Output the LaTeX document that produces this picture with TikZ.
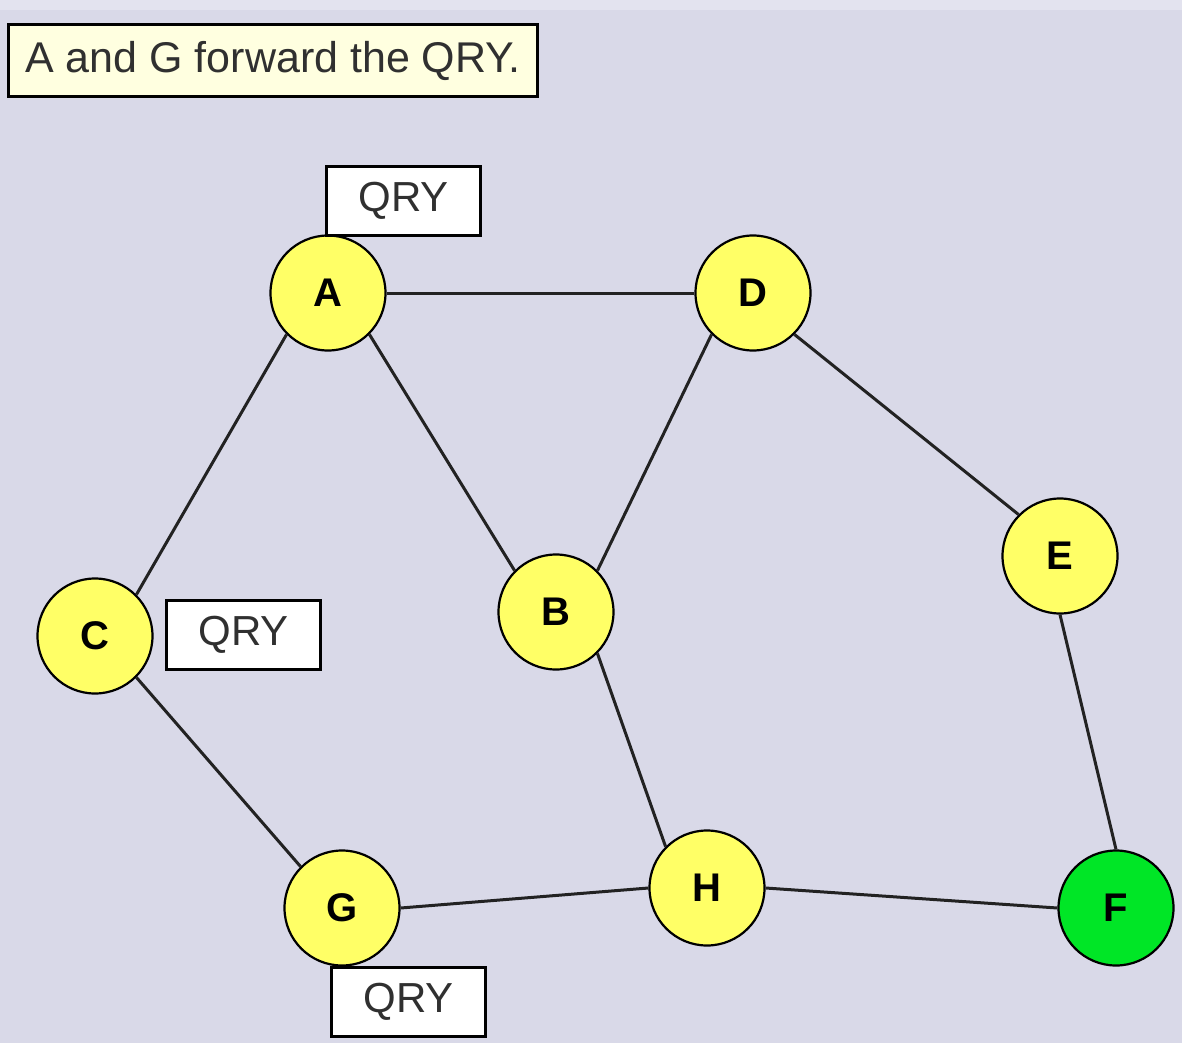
\documentclass[tikz,border=0pt]{standalone}
\usepackage{fontspec}
\setmainfont{Liberation Sans}
\definecolor{bgcol}{HTML}{D9D9E8}
\definecolor{topcol}{HTML}{E3E3EF}
\definecolor{nodeyellow}{HTML}{FFFF66}
\definecolor{nodegreen}{HTML}{00E626}
\definecolor{notefill}{HTML}{FFFFE0}
\definecolor{edgecol}{HTML}{222222}
\definecolor{txtcol}{HTML}{303030}
\tikzset{
  peer/.style={circle, draw=black, line width=2.2pt, fill=nodeyellow,
    minimum size=115pt, inner sep=0pt,
    font=\fontsize{40}{48}\selectfont\bfseries, text=black},
  target/.style={peer, fill=nodegreen},
  msg/.style={rectangle, draw=black, line width=3pt, fill=white,
    minimum width=154pt, minimum height=69pt, inner sep=0pt,
    font=\fontsize{42}{50}\selectfont, text=txtcol},
  link/.style={draw=edgecol, line width=3pt}
}
\begin{document}
\begin{tikzpicture}[x=1pt,y=-1pt]
  % background
  \fill[bgcol] (0,0) rectangle (1182,1043);
  \fill[topcol] (0,0) rectangle (1182,10);
  \useasboundingbox (0,0) rectangle (1182,1043);

  % caption
  \node[rectangle, draw=black, line width=3pt, fill=notefill,
    minimum width=529pt, minimum height=72pt, inner sep=0pt,
    font=\fontsize{43}{50}\selectfont, text=txtcol] (caption)
    at (273,60.5) {A and G forward the QRY.};

  % peers
  \node[peer]   (A) at (328,293) {A};
  \node[peer]   (D) at (753,293) {D};
  \node[peer]   (E) at (1060,556) {E};
  \node[peer]   (C) at (95,636) {C};
  \node[peer]   (B) at (556,612) {B};
  \node[peer]   (G) at (342,908) {G};
  \node[peer]   (H) at (707,888) {H};
  \node[target] (F) at (1116,908) {F};

  % links, attached at the compass points of each peer
  \draw[link] (A.east) -- (D.west);
  \draw[link] (A.south west) -- (C.north east);
  \draw[link] (A.south east) -- (B.north west);
  \draw[link] (D.south west) -- (B.north east);
  \draw[link] (D.south east) -- (E.north west);
  \draw[link] (C.south east) -- (G.north west);
  \draw[link] (B.south east) -- (H.north west);
  \draw[link] (E.south) -- (F.north);
  \draw[link] (G.east) -- (H.west);
  \draw[link] (H.east) -- (F.west);

  % query messages
  \node[msg] (qa) at (403.5,201) {QRY};
  \node[msg] (qc) at (243.5,635) {QRY};
  \node[msg] (qg) at (408.5,1002) {QRY};
\end{tikzpicture}
\end{document}
